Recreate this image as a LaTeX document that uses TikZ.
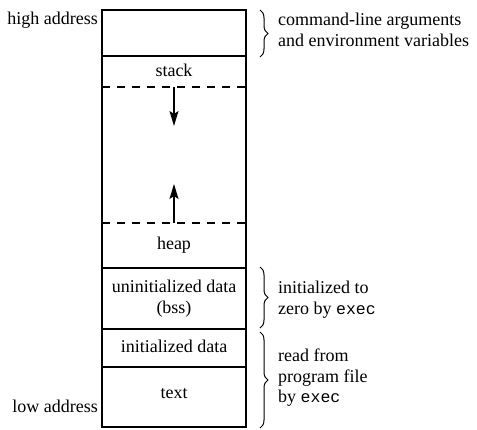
\documentclass[tikz,border=0pt]{standalone}
\usepackage{fontspec}
\setmainfont{Liberation Serif}
\setmonofont{Liberation Mono}
\usetikzlibrary{decorations.pathreplacing,arrows.meta}
\begin{document}
\begin{tikzpicture}[x=1pt,y=-1pt,
  frame/.style={line width=1.2pt},
  dash line/.style={line width=1.2pt,dash pattern=on 8pt off 7pt},
  lbl/.style={inner sep=0pt,font=\fontsize{18}{21}\selectfont},
  mono/.style={},
  growarrow/.style={line width=1.3pt,-{Stealth[length=15pt,width=9pt,inset=3pt]}},
  cbrace/.style={line width=1pt,decoration={brace,amplitude=8pt},decorate}]
\newcommand{\cmd}[1]{{\fontsize{16.5}{21}\selectfont\ttfamily #1}}
\useasboundingbox (0,0) rectangle (477,430);
% frame
\draw[frame] (102,10) rectangle (246,427);
\draw[frame] (102,56) -- (246,56);
\draw[frame] (102,268) -- (246,268);
\draw[frame] (102,329) -- (246,329);
\draw[frame] (102,367) -- (246,367);
\draw[dash line] (102,87) -- (246,87);
\draw[dash line] (102,223) -- (246,223);
% arrows
\coordinate (stacktop) at (174,87);
\coordinate (stacktip) at (174,126);
\coordinate (heaptop) at (174,223);
\coordinate (heaptip) at (174,184);
\draw[growarrow] (stacktop) -- (stacktip);
\draw[growarrow] (heaptop) -- (heaptip);
% cell labels
\node[lbl,anchor=base] (stack) at (174,77) {stack};
\node[lbl,anchor=base] (heap) at (174,250) {heap};
\node[lbl,anchor=base] (bss1) at (174,293) {uninitialized data};
\node[lbl,anchor=base] (bss2) at (174,314) {(bss)};
\node[lbl,anchor=base] (idata) at (174,353) {initialized data};
\node[lbl,anchor=base] (text) at (174,399) {text};
% address labels
\node[lbl,anchor=base east] (high) at (98,25) {high address};
\node[lbl,anchor=base east] (low) at (98,413) {low address};
% braces
\coordinate (b1t) at (260,10);
\coordinate (b1b) at (260,57);
\coordinate (b2t) at (260,267);
\coordinate (b2b) at (260,328);
\coordinate (b3t) at (260,332);
\coordinate (b3b) at (260,428);
\draw[cbrace] (b1t) -- (b1b);
\draw[cbrace] (b2t) -- (b2b);
\draw[cbrace] (b3t) -- (b3b);
% brace texts
\node[lbl,anchor=base west] (c1) at (278,26) {command-line arguments};
\node[lbl,anchor=base west] (c2) at (278,47) {and environment variables};
\node[lbl,anchor=base west] (c3) at (278,294) {initialized to};
\node[lbl,anchor=base west] (c4) at (278,315) {zero by \cmd{exec}};
\node[lbl,anchor=base west] (c5) at (278,362) {read from};
\node[lbl,anchor=base west] (c6) at (278,383) {program file};
\node[lbl,anchor=base west] (c7) at (278,403) {by \cmd{exec}};
\end{tikzpicture}
\end{document}
